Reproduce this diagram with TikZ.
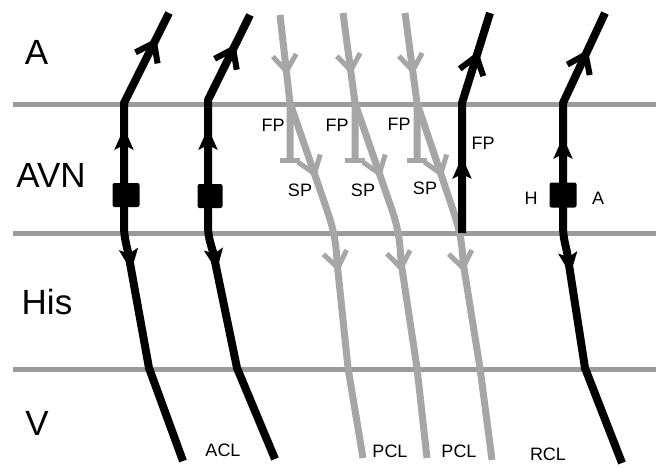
\documentclass[tikz,border=0pt]{standalone}
\usepackage{fontspec}
\setmainfont{Liberation Sans}
\usetikzlibrary{calc}
\definecolor{hline}{HTML}{9B9B9B}
\definecolor{gline}{HTML}{A6A6A6}
\newcommand\openhead[4][]{\draw[#1] ($(#2)!#4!36:(#3)$) -- (#2) -- ($(#2)!#4!-36:(#3)$);}
\newcommand\solidhead[3][]{\fill[#1] ($(#2)!24pt!24:(#3)$) -- (#2) -- ($(#2)!24pt!-24:(#3)$) -- ($(#2)!17pt!(#3)$) -- cycle;}
\begin{document}
\begin{tikzpicture}[x=1pt,y=-1pt,
  hl/.style={draw=hline, line width=5pt},
  blk/.style={draw=black, line width=8pt, line join=round},
  gry/.style={draw=gline, line width=7pt, line join=round},
  bhead/.style={draw=black, line width=6pt, line join=miter},
  ghead/.style={draw=gline, line width=5pt, line join=miter},
  tbar/.style={draw=gline, line width=5pt},
  big/.style={font=\fontsize{35}{40}\selectfont, inner sep=0pt},
  small/.style={font=\fontsize{18}{20}\selectfont, inner sep=0pt},
  blockbox/.style={fill=black, minimum width=26pt, minimum height=24pt, inner sep=0pt, rounded corners=2pt}]
\useasboundingbox (0,0) rectangle (659,467);

% layer boundaries
\coordinate (h1l) at (13,104); \coordinate (h1r) at (656,104);
\coordinate (h2l) at (13,233); \coordinate (h2r) at (656,233);
\coordinate (h3l) at (13,369); \coordinate (h3r) at (656,369);
\draw[hl] (h1l) -- (h1r);
\draw[hl] (h2l) -- (h2r);
\draw[hl] (h3l) -- (h3r);

% gray pathways (PCL)
\coordinate (g1t) at (280,15); \coordinate (g1k) at (290,103); \coordinate (g1f) at (290,160);
\coordinate (g1s) at (327,210); \coordinate (g1c) at (337,262); \coordinate (g1m) at (348,368); \coordinate (g1b) at (363,458);
\coordinate (g2t) at (343,13); \coordinate (g2k) at (355,103); \coordinate (g2f) at (355,160);
\coordinate (g2s) at (392,210); \coordinate (g2c) at (401,262); \coordinate (g2m) at (417,368); \coordinate (g2b) at (427,458);
\coordinate (g3t) at (405,13); \coordinate (g3k) at (417,103); \coordinate (g3f) at (417,160);
\coordinate (g3s) at (453,210); \coordinate (g3c) at (463,262); \coordinate (g3m) at (480,368); \coordinate (g3b) at (492,460);

\foreach \g in {g1,g2,g3}{
  \draw[gry] (\g t) -- (\g k) -- (\g f);
  \draw[tbar] ($(\g f)+(-10,0)$) -- ($(\g f)+(10,0)$);
}
\draw[gry] (g1k) -- (g1s) .. controls (333,228) and (336,240) .. (g1c) -- (g1m) -- (g1b);
\draw[gry] (g2k) -- (g2s) .. controls (398,228) and (400,240) .. (g2c) -- (g2m) -- (g2b);
\draw[gry] (g3k) -- (g3s) .. controls (459,228) and (462,240) .. (g3c) -- (g3m) -- (g3b);

\coordinate (ga1) at ($(g1t)!0.64!(g1k)$);
\coordinate (ga2) at ($(g2t)!0.64!(g2k)$);
\coordinate (ga3) at ($(g3t)!0.64!(g3k)$);
\coordinate (gs1) at ($(g1k)!0.66!(g1s)$);
\coordinate (gs2) at ($(g2k)!0.66!(g2s)$);
\coordinate (gs3) at ($(g3k)!0.66!(g3s)$);
\coordinate (gl1) at (338,268); \coordinate (gl2) at (401,268); \coordinate (gl3) at (463,268);
\openhead[ghead]{ga1}{g1t}{20pt}
\openhead[ghead]{ga2}{g2t}{20pt}
\openhead[ghead]{ga3}{g3t}{20pt}
\openhead[ghead]{gs1}{g1k}{20pt}
\openhead[ghead]{gs2}{g2k}{20pt}
\openhead[ghead]{gs3}{g3k}{20pt}
\openhead[ghead]{gl1}{g1s}{20pt}
\openhead[ghead]{gl2}{g2s}{20pt}
\openhead[ghead]{gl3}{g3s}{20pt}

% black pathways
\coordinate (t1) at (169,13); \coordinate (k1) at (124,103); \coordinate (j1) at (124,215);
\coordinate (c1) at (128,252); \coordinate (m1) at (149,368); \coordinate (b1) at (183,461);
\coordinate (t2) at (250,15); \coordinate (k2) at (208,100); \coordinate (j2) at (208,215);
\coordinate (c2) at (213,252); \coordinate (m2) at (237,368); \coordinate (b2) at (275,459);
\coordinate (t3) at (490,13); \coordinate (k3) at (462,103); \coordinate (b3) at (462,233);
\coordinate (t4) at (605,13); \coordinate (k4) at (563,103); \coordinate (j4) at (563,215);
\coordinate (c4) at (567,252); \coordinate (m4) at (585,368); \coordinate (b4) at (622,463);

\draw[blk] (t1) -- (k1) -- (j1) .. controls (124,235) .. (c1) -- (m1) -- (b1);
\draw[blk] (t2) -- (k2) -- (j2) .. controls (208,235) .. (c2) -- (m2) -- (b2);
\draw[blk] (t3) -- (k3) -- (b3);
\draw[blk] (t4) -- (k4) -- (j4) .. controls (563,235) .. (c4) -- (m4) -- (b4);

\coordinate (ba1) at ($(k1)!0.67!(t1)$);
\coordinate (ba2) at ($(k2)!0.60!(t2)$);
\coordinate (ba3) at ($(k3)!0.52!(t3)$);
\coordinate (ba4) at ($(k4)!0.54!(t4)$);
\openhead[bhead]{ba1}{k1}{21pt}
\openhead[bhead]{ba2}{k2}{21pt}
\openhead[bhead]{ba3}{k3}{21pt}
\openhead[bhead]{ba4}{k4}{21pt}

\coordinate (bu1) at (124,128); \coordinate (bu2) at (208,128);
\coordinate (bu3) at (462,157); \coordinate (bu4) at (563,137);
\solidhead{bu1}{j1}
\solidhead{bu2}{j2}
\solidhead{bu3}{b3}
\solidhead{bu4}{j4}

\coordinate (bd1) at ($(c1)!0.16!(m1)$);
\coordinate (bd2) at ($(c2)!0.16!(m2)$);
\coordinate (bd4) at ($(c4)!0.19!(m4)$);
\solidhead{bd1}{j1}
\solidhead{bd2}{j2}
\solidhead{bd4}{j4}

% conduction blocks
\node[blockbox, minimum width=27pt] (sq1) at (126,195) {};
\node[blockbox, minimum width=25pt] (sq2) at (210,196) {};
\node[blockbox, minimum width=27pt, minimum height=25pt] (sq4) at (563,195) {};

% layer labels
\node[big] (lA) at (36.5,52.5) {A};
\node[big] (lAVN) at (51,175) {AVN};
\node[big] (lHis) at (47,302) {His};
\node[big] (lV) at (37,423) {V};

% small labels
\node[small] (fp1) at (273,125) {FP};
\node[small] (sp1) at (300,190) {SP};
\node[small] (fp2) at (337,125) {FP};
\node[small] (sp2) at (363,190) {SP};
\node[small] (fp3) at (399,124) {FP};
\node[small] (sp3) at (425,188) {SP};
\node[small] (fp4) at (483,143) {FP};
\node[small] (lH) at (531,198) {H};
\node[small] (lA2) at (598,198) {A};
\node[small] (acl) at (223,450) {ACL};
\node[small] (pcl1) at (390,451) {PCL};
\node[small] (pcl2) at (459,451) {PCL};
\node[small] (rcl) at (548,454) {RCL};
\end{tikzpicture}
\end{document}
